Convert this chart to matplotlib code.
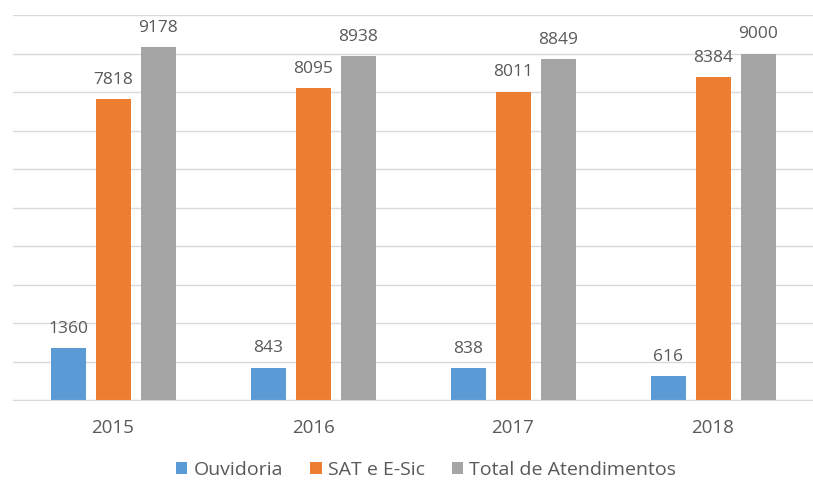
import matplotlib.pyplot as plt
import numpy as np

years = ["2015", "2016", "2017", "2018"]
ouvidoria = [1360, 843, 838, 616]
sat_esic = [7818, 8095, 8011, 8384]
total = [9178, 8938, 8849, 9000]

series = [
    ("Ouvidoria", ouvidoria, "#5b9bd5"),
    ("SAT e E-Sic", sat_esic, "#ed7d31"),
    ("Total de Atendimentos", total, "#a5a5a5"),
]

plt.rcParams["font.family"] = ["Open Sans", "DejaVu Sans"]
TEXT = "#595959"

fig = plt.figure(figsize=(8.13, 4.84), dpi=100)
ax = fig.add_axes([13 / 813, 1 - 400 / 484, 800 / 813, 385 / 484])

x = np.arange(len(years))
step = 0.225
width = 0.175
for i, (name, values, color) in enumerate(series):
    pos = x + (i - 1) * step
    bars = ax.bar(pos, values, width=width, color=color, label=name, zorder=2)
    for rect, v in zip(bars, values):
        ax.annotate(str(v), (rect.get_x() + rect.get_width() / 2, v),
                    xytext=(0, 8), textcoords="offset points",
                    ha="center", va="bottom", fontsize=12.5, color=TEXT)

ax.set_xlim(-0.5, len(years) - 0.5)
ax.set_ylim(0, 10000)
ax.set_yticks(np.arange(0, 10001, 1000))
ax.set_yticklabels([])
ax.tick_params(axis="y", length=0)
ax.grid(axis="y", color="#d9d9d9", linewidth=1, zorder=0)
ax.set_xticks(x)
ax.set_xticklabels(years, fontsize=13.5, color=TEXT)
ax.tick_params(axis="x", length=0, pad=14)
for side in ("top", "right", "left"):
    ax.spines[side].set_visible(False)
ax.spines["bottom"].set_color("#d9d9d9")

fig.legend(loc="center", bbox_to_anchor=(426 / 813, 1 - 470 / 484), ncol=3,
           frameon=False, fontsize=14, handlelength=0.6, handleheight=0.6,
           handletextpad=0.3, columnspacing=1.4, labelcolor=TEXT)

fig.savefig("out.png", dpi=100)
